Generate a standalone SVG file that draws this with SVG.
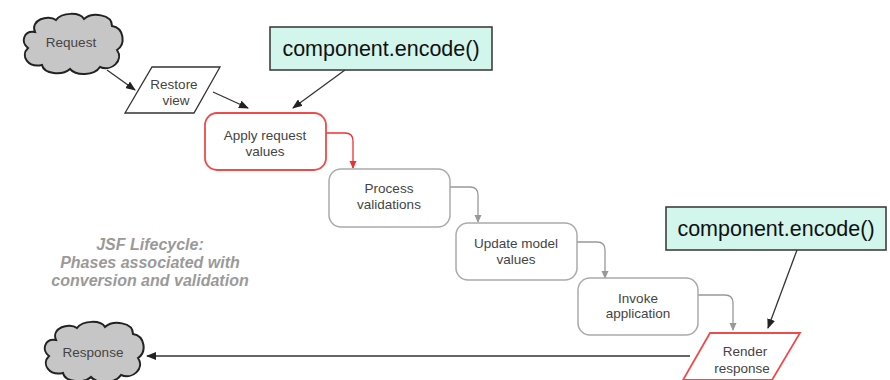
<svg xmlns="http://www.w3.org/2000/svg" width="890" height="380" viewBox="0 0 890 380">
<defs>
<style>
.lbl{font-family:"Liberation Sans",Arial,sans-serif;font-size:13.5px;fill:#444;text-anchor:middle}
.big{font-family:"Liberation Sans",Arial,sans-serif;font-size:21.5px;fill:#111;text-anchor:middle}
.note{font-family:"Liberation Sans",Arial,sans-serif;font-size:16px;font-weight:bold;font-style:italic;fill:#9a9a9a;text-anchor:middle}
.cloud{fill:#c6c6c6;stroke:#222;stroke-width:2}
.phase{fill:#fff;stroke:#aaa;stroke-width:1.5}
.hot{fill:#fff;stroke:#f04a4a;stroke-width:1.8}
.code{fill:#d2f5ec;stroke:#333;stroke-width:1.5}
.blk{fill:none;stroke:#333;stroke-width:1.3}
.gry{fill:none;stroke:#999;stroke-width:1.3}
.red{fill:none;stroke:#f03030;stroke-width:1.3}
</style>
<marker id="ab" markerWidth="10" markerHeight="8" refX="9" refY="4" orient="auto" markerUnits="userSpaceOnUse"><path d="M0,0 L10,4 L0,8 Z" fill="#222"/></marker>
<marker id="ag" markerWidth="8" markerHeight="8" refX="7" refY="4" orient="auto" markerUnits="userSpaceOnUse"><path d="M0,0.5 L8,4 L0,7.5 Z" fill="#999"/></marker>
<marker id="ar" markerWidth="8" markerHeight="8" refX="7" refY="4" orient="auto" markerUnits="userSpaceOnUse"><path d="M0,0.5 L8,4 L0,7.5 Z" fill="#f03030"/></marker>
<path id="cl" d="M15,20 C10,8 28,2 36,8 C42,0 60,0 64,7 C72,0 92,2 92,14 C104,16 106,32 97,38 C104,48 92,60 80,55 C74,64 56,64 50,57 C42,64 24,62 22,53 C8,56 0,44 8,36 C0,30 4,18 15,20 Z"/>
</defs>
<rect width="890" height="380" fill="#fff"/>
<g id="connectors">
<line class="blk" x1="107" y1="70" x2="135" y2="90" marker-end="url(#ab)"/>
<line class="blk" x1="213" y1="92" x2="248" y2="108" marker-end="url(#ab)"/>
<line class="blk" x1="345" y1="70" x2="293" y2="108" marker-end="url(#ab)"/>
<path class="red" d="M324,133 H345 Q353,133 353,141 V168" marker-end="url(#ar)"/>
<path class="gry" d="M450,187 H470 Q478,187 478,195 V222" marker-end="url(#ag)"/>
<path class="gry" d="M576,242 H597 Q605,242 605,250 V278" marker-end="url(#ag)"/>
<path class="gry" d="M698,295 H725 Q733,295 733,303 V330" marker-end="url(#ag)"/>
<line class="blk" x1="797" y1="250" x2="768" y2="328" marker-end="url(#ab)"/>
<line class="blk" x1="690" y1="356" x2="147" y2="356" marker-end="url(#ab)"/>
</g>
<g id="request">
<use href="#cl" class="cloud" transform="translate(20,12)"/>
<text class="lbl" x="71" y="47" fill="#333">Request</text>
</g>
<g id="restore">
<polygon class="blk" style="fill:#fff" points="152,67 220,67 194,113 125,113"/>
<text class="lbl" x="174" y="89">Restore</text>
<text class="lbl" x="176" y="105">view</text>
</g>
<g id="code1">
<rect class="code" x="270" y="27" width="222" height="43"/>
<text class="big" x="381" y="56">component.encode()</text>
</g>
<g id="apply">
<rect class="hot" x="205" y="113" width="121" height="57" rx="12"/>
<text class="lbl" x="265" y="140">Apply request</text>
<text class="lbl" x="265" y="156">values</text>
</g>
<g id="process">
<rect class="phase" x="329" y="169" width="121" height="58" rx="12"/>
<text class="lbl" x="389" y="193">Process</text>
<text class="lbl" x="389" y="209">validations</text>
</g>
<g id="update">
<rect class="phase" x="456" y="223" width="121" height="57" rx="12"/>
<text class="lbl" x="516" y="248">Update model</text>
<text class="lbl" x="516" y="264">values</text>
</g>
<g id="invoke">
<rect class="phase" x="578" y="278" width="120" height="57" rx="12"/>
<text class="lbl" x="638" y="303">Invoke</text>
<text class="lbl" x="638" y="318">application</text>
</g>
<g id="code2">
<rect class="code" x="666" y="207" width="220" height="43"/>
<text class="big" x="776" y="236">component.encode()</text>
</g>
<g id="render">
<polygon class="hot" points="710,333 800,333 772,380 683,380"/>
<text class="lbl" x="745" y="356">Render</text>
<text class="lbl" x="742" y="373">response</text>
</g>
<g id="response">
<use href="#cl" class="cloud" transform="translate(41,320)"/>
<text class="lbl" x="93" y="357" fill="#333">Response</text>
</g>
<g id="note">
<text class="note" x="150" y="250">JSF Lifecycle:</text>
<text class="note" x="150" y="268">Phases associated with</text>
<text class="note" x="150" y="286">conversion and validation</text>
</g>
</svg>
